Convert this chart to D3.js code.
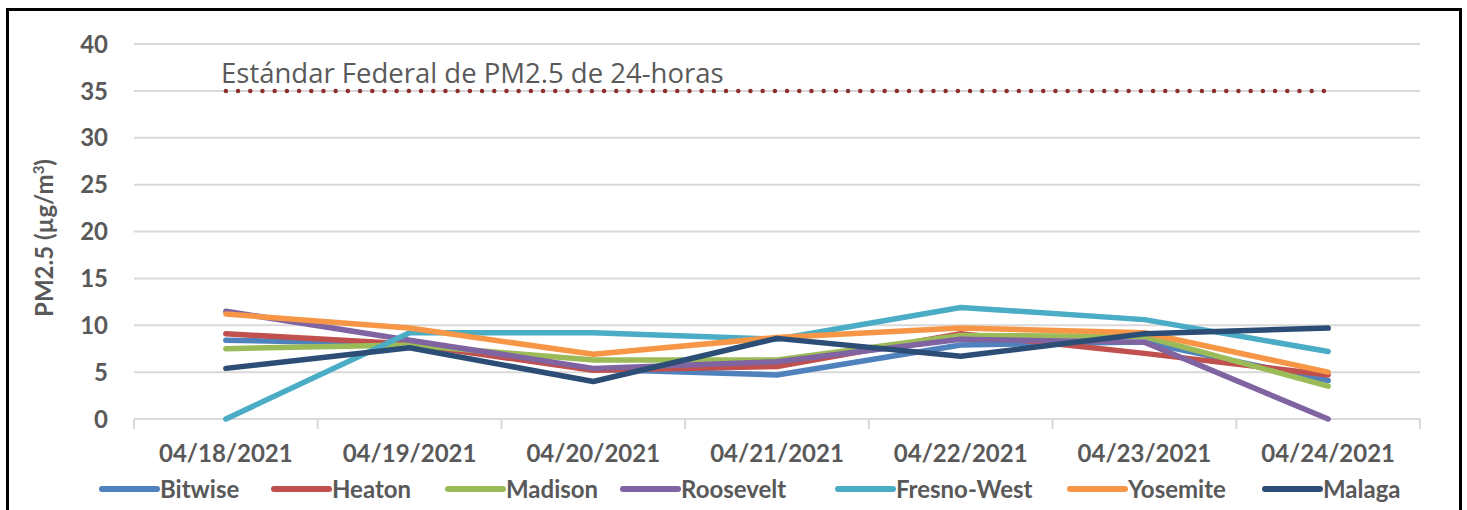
<!DOCTYPE html>
<html>
<head>
<meta charset="utf-8">
<script src="https://cdn.jsdelivr.net/npm/d3@7"></script>
<style>
  body { margin: 0; background: #fff; }
  text { font-family: Lato, "Open Sans", sans-serif; }
</style>
</head>
<body>
<div id="chart"></div>
<script>
// dates on the x axis
const dates = ["04/18/2021", "04/19/2021", "04/20/2021", "04/21/2021", "04/22/2021", "04/23/2021", "04/24/2021"];

// PM2.5 values per site
const bitwise    = [8.4, 8.0, 5.3, 4.7, 7.9, 8.2, 4.1];
const heaton     = [9.1, 8.0, 5.2, 5.6, 9.1, 7.0, 4.7];
const madison    = [7.5, 7.9, 6.3, 6.3, 8.9, 8.8, 3.5];
const roosevelt  = [11.5, 8.4, 5.4, 6.1, 8.5, 8.2, 0];
const fresnoWest = [0, 9.2, 9.2, 8.5, 11.9, 10.6, 7.2];
const yosemite   = [11.2, 9.7, 6.9, 8.7, 9.7, 9.2, 5.0];
const malaga     = [5.4, 7.6, 4.0, 8.6, 6.7, 9.1, 9.7];

const seriesNames = ["Bitwise", "Heaton", "Madison", "Roosevelt", "Fresno-West", "Yosemite", "Malaga"];
const seriesColors = ["#4f81bd", "#c0504d", "#9bbb59", "#8064a2", "#4bacc6", "#f79646", "#2c4d75"];

const standardValue = 35;
const standardLabel = "Estándar Federal de PM2.5 de 24-horas";
const yTicks = [0, 5, 10, 15, 20, 25, 30, 35, 40];

const series = [bitwise, heaton, madison, roosevelt, fresnoWest, yosemite, malaga].map((v, i) => ({
  name: seriesNames[i],
  color: seriesColors[i],
  values: v
}));

var w = 1467;
var h = 510;
var textColor = "#595959";
var fs = 24; // main label size

var svg = d3.select("#chart")
  .append("svg")
  .attr("width", w)
  .attr("height", h);

// outer border
svg.append("rect")
  .attr("x", 7.5).attr("y", 9.5)
  .attr("width", 1453).attr("height", 520)
  .attr("fill", "none")
  .attr("stroke", "#000")
  .attr("stroke-width", 3);

// scales
var x = d3.scaleBand().domain(dates).range([134, 1420]).padding(0);
var y = d3.scaleLinear().domain([0, 40]).range([419, 44]);
var cx = (d) => x(d) + x.bandwidth() / 2;

// gridlines
svg.append("g")
  .selectAll("line")
  .data(yTicks.filter((t) => t > 0))
  .enter()
  .append("line")
  .attr("x1", 134).attr("x2", 1420)
  .attr("y1", (d) => y(d)).attr("y2", (d) => y(d))
  .attr("stroke", "#d9d9d9")
  .attr("stroke-width", 2);

// x axis line and tick marks
svg.append("line")
  .attr("x1", 134).attr("x2", 1420)
  .attr("y1", y(0)).attr("y2", y(0))
  .attr("stroke", "#d9d9d9").attr("stroke-width", 2);

var tickEdges = dates.map((d) => x(d)).concat([x(dates[dates.length - 1]) + x.bandwidth()]);
svg.append("g")
  .selectAll("line")
  .data(tickEdges)
  .enter()
  .append("line")
  .attr("x1", (d) => d).attr("x2", (d) => d)
  .attr("y1", y(0)).attr("y2", y(0) + 10)
  .attr("stroke", "#d9d9d9").attr("stroke-width", 2);

// y tick labels
svg.append("g")
  .selectAll("text")
  .data(yTicks)
  .enter()
  .append("text")
  .attr("x", 108)
  .attr("y", (d) => y(d))
  .attr("dy", "0.36em")
  .attr("text-anchor", "end")
  .attr("font-size", fs)
  .attr("font-weight", "bold")
  .attr("fill", textColor)
  .text((d) => d);

// x tick labels
svg.append("g")
  .selectAll("text")
  .data(dates)
  .enter()
  .append("text")
  .attr("x", (d) => cx(d))
  .attr("y", 462)
  .attr("text-anchor", "middle")
  .attr("font-size", fs)
  .attr("font-weight", "bold")
  .attr("fill", textColor)
  .text((d) => d);

// y axis title
var yTitle = svg.append("text")
  .attr("transform", "translate(53,238) rotate(-90)")
  .attr("text-anchor", "middle")
  .attr("font-size", 24)
  .attr("font-weight", "bold")
  .attr("fill", textColor);
yTitle.append("tspan").text("PM2.5 (µg/m");
yTitle.append("tspan").attr("font-size", 15).attr("dy", -9).text("3");
yTitle.append("tspan").attr("dy", 9).text(")");

// federal standard line
svg.append("line")
  .attr("x1", cx(dates[0])).attr("x2", cx(dates[dates.length - 1]) - 4)
  .attr("y1", y(standardValue)).attr("y2", y(standardValue))
  .attr("stroke", "#8c2f2f")
  .attr("stroke-width", 4.5)
  .attr("stroke-linecap", "round")
  .attr("stroke-dasharray", "0 12.2");

svg.append("text")
  .attr("x", 221)
  .attr("y", 83)
  .attr("font-size", 27.5)
  .attr("fill", textColor)
  .style("font-family", "'Open Sans', sans-serif")
  .text(standardLabel);

// series lines
var line = d3.line()
  .x((d, i) => cx(dates[i]))
  .y((d) => y(d));

svg.append("g")
  .selectAll("path")
  .data(series)
  .enter()
  .append("path")
  .attr("d", (d) => line(d.values))
  .attr("fill", "none")
  .attr("stroke", (d) => d.color)
  .attr("stroke-width", 5.5)
  .attr("stroke-linecap", "round")
  .attr("stroke-linejoin", "round");

// legend
var legendX = [102, 274, 448, 623, 838, 1070, 1265];
var legend = svg.append("g")
  .selectAll("g")
  .data(series)
  .enter()
  .append("g")
  .attr("transform", (d, i) => "translate(" + legendX[i] + ",489)");

legend.append("line")
  .attr("x1", 0).attr("x2", 55)
  .attr("y1", 0).attr("y2", 0)
  .attr("stroke", (d) => d.color)
  .attr("stroke-width", 6)
  .attr("stroke-linecap", "round");

legend.append("text")
  .attr("x", 58)
  .attr("y", 0)
  .attr("dy", "0.36em")
  .attr("font-size", fs)
  .attr("font-weight", "bold")
  .attr("fill", textColor)
  .text((d) => d.name);
</script>
</body>
</html>
